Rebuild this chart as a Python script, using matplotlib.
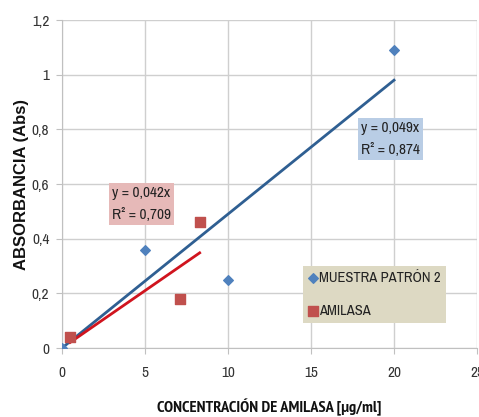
import matplotlib.pyplot as plt
from matplotlib.ticker import FuncFormatter

# patrón (diamantes azules)
patron_x = [0, 5, 10, 20]
patron_y = [0, 0.36, 0.25, 1.09]
patron_slope = 0.049
patron_r2 = "0,874"

# amilasa (cuadrados rojos)
amilasa_x = [0.5, 7.1, 8.3]
amilasa_y = [0.04, 0.18, 0.46]
amilasa_slope = 0.042
amilasa_r2 = "0,709"

narrow = ['Archivo Narrow', 'DejaVu Sans']
plt.rcParams['font.family'] = narrow

fig = plt.figure(figsize=(4.79, 4.17), dpi=100)
ax = fig.add_axes([0.129, 0.165, 0.867, 0.787])

ax.scatter(patron_x, patron_y, marker='D', s=24, color='#4f81bd', zorder=3,
           label='MUESTRA PATRÓN 2')
ax.scatter(amilasa_x, amilasa_y, marker='s', s=50, color='#c0504d', zorder=3,
           label='AMILASA')

# lineas de tendencia por el origen
ax.plot([0, max(patron_x)], [0, patron_slope * max(patron_x)],
        color='#2f5f92', lw=2, zorder=2)
ax.plot([amilasa_x[0], max(amilasa_x)],
        [amilasa_slope * amilasa_x[0], amilasa_slope * max(amilasa_x)],
        color='#d0141e', lw=2, zorder=2)

ax.text(18.0, 0.765, f"y = 0,049x\nR² = {patron_r2}", fontsize=11, va='center',
        linespacing=1.65, color='#222222',
        bbox=dict(boxstyle='square,pad=0.2', fc='#b9cde5', ec='none'))
ax.text(3.0, 0.527, f"y = 0,042x\nR² = {amilasa_r2}", fontsize=11, va='center',
        linespacing=1.65, color='#222222',
        bbox=dict(boxstyle='square,pad=0.2', fc='#e6b9b8', ec='none'))

ax.set_xlim(0, 25)
ax.set_ylim(0, 1.2)
ax.set_xticks([0, 5, 10, 15, 20, 25])
ax.set_yticks([0, 0.2, 0.4, 0.6, 0.8, 1.0, 1.2])
ax.yaxis.set_major_formatter(FuncFormatter(lambda v, p: f"{v:g}".replace('.', ',')))
ax.tick_params(length=4, color='#c0c0c0', labelsize=11, labelcolor='#333333')
ax.tick_params(axis='x', pad=9)
ax.tick_params(axis='y', pad=5)
ax.grid(color='#cfcfcf', lw=1)
ax.set_axisbelow(True)
for s in ('top', 'right'):
    ax.spines[s].set_visible(False)
for s in ('left', 'bottom'):
    ax.spines[s].set_color('#c0c0c0')

ax.set_xlabel("CONCENTRACIÓN DE AMILASA [µg/ml]", fontsize=11.8,
              fontweight='bold', family=['PT Sans Narrow', 'DejaVu Sans'],
              labelpad=13, color='#111111')
ax.set_ylabel("ABSORBANCIA (Abs)", fontsize=12, fontweight='bold',
              family=['Liberation Sans', 'DejaVu Sans'], labelpad=2,
              color='#111111')

leg = ax.legend(loc='lower left', bbox_to_anchor=(0.581, 0.076), borderaxespad=0,
                fontsize=10.5, frameon=True, fancybox=False, handletextpad=0.05,
                handlelength=0.7, labelspacing=1.3, borderpad=0.35,
                scatterpoints=1)
for t in leg.get_texts():
    t.set_color('#222222')
leg.get_frame().set_facecolor('#ddd9c3')
leg.get_frame().set_edgecolor('none')
leg.get_frame().set_alpha(1)

fig.savefig('out.png', dpi=100)
